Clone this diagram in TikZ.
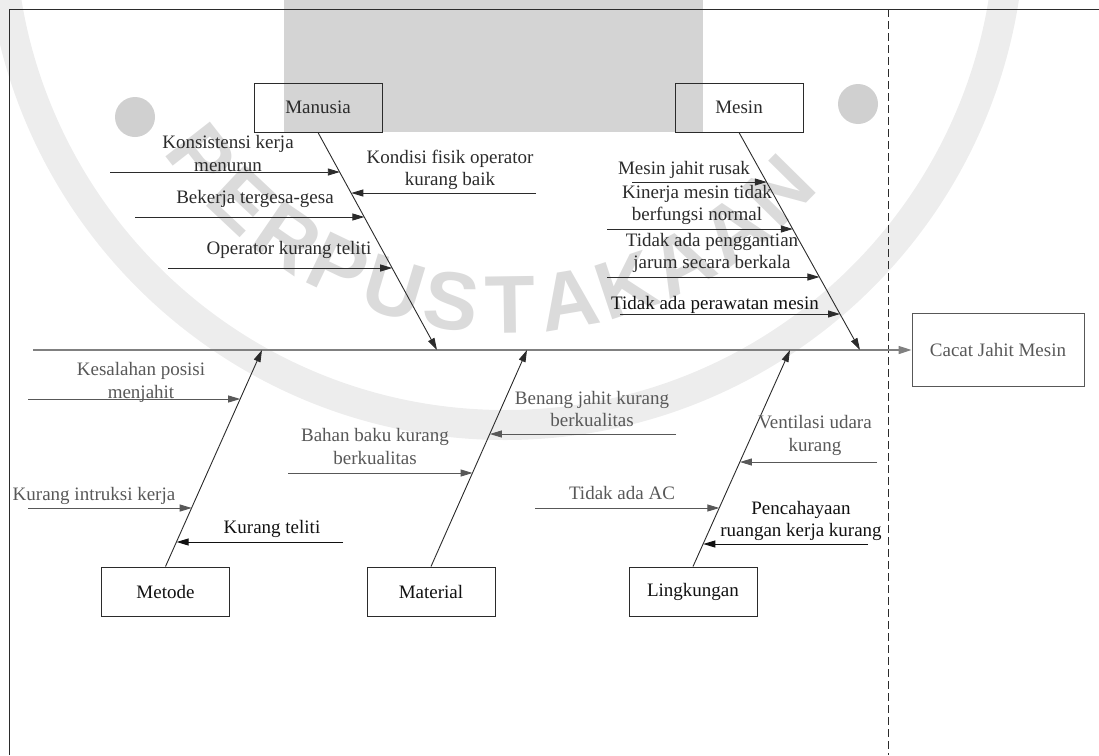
\documentclass[tikz,border=0pt]{standalone}
\usepackage{fontspec}
\setmainfont{Liberation Serif}
\newfontfamily\wmfont{Liberation Sans}
\usetikzlibrary{arrows.meta,calc}

\definecolor{labblack}{HTML}{111111}
\definecolor{labdark}{HTML}{2B2B2B}
\definecolor{labgray}{HTML}{585858}
\definecolor{spinegray}{HTML}{808080}
\definecolor{wmblock}{HTML}{D4D4D4}
\definecolor{wmdot}{HTML}{D0D0D0}
\definecolor{wmring}{HTML}{EDEDED}
\definecolor{wmletter}{HTML}{DBDBDB}

% one strut per line keeps single and double lines centred alike
\newcommand\oneline[1]{\strut#1}
\newcommand\twoline[2]{\strut#1\\\strut#2}

\begin{document}
\begin{tikzpicture}[x=1pt,y=-1pt,
  every node/.style={font=\fontsize{19}{22.5}\selectfont, inner sep=0pt, align=center},
  causebox/.style={draw=labdark, line width=1pt, minimum width=128pt, minimum height=49pt},
  bone/.style={draw=labdark, line width=0.9pt, -{Triangle[length=12pt,width=7pt]}},
  rib/.style={line width=0.9pt, -{Triangle[length=12pt,width=7pt]}},
  frameline/.style={draw=labdark, line width=1pt},
]
\useasboundingbox (0,0) rectangle (1099,755);

% ---- background stamp ----
\fill[wmblock] (284,0) rectangle (703,132);
\fill[wmdot] (135,117) circle[radius=20pt];
\fill[wmdot] (858,104) circle[radius=20pt];
\draw[wmring, line width=30pt] (505,-80) circle[radius=505pt];
\foreach \ch/\ang [count=\i] in {P/142,E/133.2,R/124.4,P/115.6,U/106.8,S/98,T/89.2,A/80.4,K/71.6,A/62.6,A/53.6,N/44.6}
  \node[text=wmletter, font=\wmfont\bfseries\fontsize{82}{82}\selectfont, rotate={90-\ang}]
    (wm\i) at ($(505,-80)+(\ang:385)$) {\ch};

% ---- frame ----
\coordinate (fTL) at (9.5,9);
\coordinate (fBL) at (9.5,755);
\coordinate (fTR) at (1099,9);
\coordinate (dTop) at (888,9);
\coordinate (dBot) at (888,755);
\draw[frameline] (fBL) -- (fTL) -- (fTR);
\draw[frameline, dash pattern=on 8pt off 4pt] (dTop) -- (dBot);

% ---- category boxes and effect ----
\node[causebox, text=labdark] (manusia) at (318,107.5) {Manusia};
\node[causebox, text=labdark] (mesin) at (739,107.5) {Mesin};
\node[causebox, text=labblack] (metode) at (165.5,591.5) {Metode};
\node[causebox, text=labblack] (material) at (431,591.5) {Material};
\node[causebox, text=labblack] (lingkungan) at (693,591.5) {Lingkungan};
\node[causebox, draw=labgray, text=labgray, minimum width=172pt, minimum height=73pt] (effect) at (998,350) {Cacat Jahit Mesin};

% ---- spine ----
\coordinate (tail) at (33,350);
\draw[spinegray, line width=1.6pt, -{Triangle[length=13pt,width=8pt]}] (tail) -- (effect.west);

% ---- bones ----
\coordinate (hManusia) at (437,350);
\coordinate (hMesin) at (860,350);
\coordinate (hMetode) at (262,350);
\coordinate (hMaterial) at (527,350);
\coordinate (hLingkungan) at (790,350);
\draw[bone] (manusia.south) -- (hManusia);
\draw[bone] (mesin.south) -- (hMesin);
\draw[bone] (metode.north) -- (hMetode);
\draw[bone] (material.north) -- (hMaterial);
\draw[bone] (lingkungan.north) -- (hLingkungan);

% ---- points where the causes meet the bones ----
\coordinate (tKons) at ($(manusia.south)!{40/218}!(hManusia)$);
\coordinate (tKond) at ($(manusia.south)!{61/218}!(hManusia)$);
\coordinate (tBek) at ($(manusia.south)!{85/218}!(hManusia)$);
\coordinate (tOp) at ($(manusia.south)!{136/218}!(hManusia)$);
\coordinate (tRusak) at ($(mesin.south)!{50/218}!(hMesin)$);
\coordinate (tKin) at ($(mesin.south)!{97/218}!(hMesin)$);
\coordinate (tGanti) at ($(mesin.south)!{145/218}!(hMesin)$);
\coordinate (tRawat) at ($(mesin.south)!{182/218}!(hMesin)$);
\coordinate (tSalah) at ($(metode.north)!{168/217}!(hMetode)$);
\coordinate (tIntr) at ($(metode.north)!{59/217}!(hMetode)$);
\coordinate (tTeliti) at ($(metode.north)!{25/217}!(hMetode)$);
\coordinate (tBenang) at ($(material.north)!{133/217}!(hMaterial)$);
\coordinate (tBahan) at ($(material.north)!{94/217}!(hMaterial)$);
\coordinate (tVent) at ($(lingkungan.north)!{105/217}!(hLingkungan)$);
\coordinate (tAC) at ($(lingkungan.north)!{59/217}!(hLingkungan)$);
\coordinate (tCahaya) at ($(lingkungan.north)!{23/217}!(hLingkungan)$);

% ---- free ends of the cause arrows ----
\coordinate (sKons) at (110,172);
\coordinate (sKond) at (536,193);
\coordinate (sBek) at (135,217);
\coordinate (sOp) at (168,268);
\coordinate (sRusak) at (632,182);
\coordinate (sKin) at (607,229);
\coordinate (sGanti) at (607,277);
\coordinate (sRawat) at (620,314);
\coordinate (sSalah) at (28,399);
\coordinate (sIntr) at (28,508);
\coordinate (sTeliti) at (343,542);
\coordinate (sBahan) at (288,473);
\coordinate (sBenang) at (676,434);
\coordinate (sAC) at (535,508);
\coordinate (sVent) at (877,462);
\coordinate (sCahaya) at (868,544);

% ---- cause arrows ----
\draw[rib, labdark] (sKons) -- (tKons |- sKons);
\draw[rib, labdark] (sKond) -- (tKond |- sKond);
\draw[rib, labdark] (sBek) -- (tBek |- sBek);
\draw[rib, labdark] (sOp) -- (tOp |- sOp);
\draw[rib, labdark] (sRusak) -- (tRusak |- sRusak);
\draw[rib, labdark] (sKin) -- (tKin |- sKin);
\draw[rib, labdark] (sGanti) -- (tGanti |- sGanti);
\draw[rib, labdark] (sRawat) -- (tRawat |- sRawat);
\draw[rib, labgray] (sSalah) -- (tSalah |- sSalah);
\draw[rib, labgray] (sIntr) -- (tIntr |- sIntr);
\draw[rib, labblack] (sTeliti) -- (tTeliti |- sTeliti);
\draw[rib, labgray] (sBahan) -- (tBahan |- sBahan);
\draw[rib, labgray] (sBenang) -- (tBenang |- sBenang);
\draw[rib, labgray] (sAC) -- (tAC |- sAC);
\draw[rib, labgray] (sVent) -- (tVent |- sVent);
\draw[rib, labblack] (sCahaya) -- (tCahaya |- sCahaya);

% ---- cause labels ----
\node[text=labdark] (lKons) at (228,155.5) {\twoline{Konsistensi kerja}{menurun}};
\node[text=labdark] (lKond) at (450,170) {\twoline{Kondisi fisik operator}{kurang baik}};
\node[text=labdark] (lBek) at (255,199) {\oneline{Bekerja tergesa-gesa}};
\node[text=labdark] (lOp) at (289,250) {\oneline{Operator kurang teliti}};
\node[text=labdark] (lRusak) at (684,170) {\oneline{Mesin jahit rusak}};
\node[text=labdark] (lKin) at (697,205) {\twoline{Kinerja mesin tidak}{berfungsi normal}};
\node[text=labdark] (lGanti) at (712,253) {\twoline{Tidak ada penggantian}{jarum secara berkala}};
\node[text=labblack] (lRawat) at (715,305) {\oneline{Tidak ada perawatan mesin}};
\node[text=labgray] (lSalah) at (141,382.5) {\twoline{Kesalahan posisi}{menjahit}};
\node[text=labgray] (lIntr) at (94,496) {\oneline{Kurang intruksi kerja}};
\node[text=labblack] (lTeliti) at (272,529) {\oneline{Kurang teliti}};
\node[text=labgray] (lBahan) at (375,448.5) {\twoline{Bahan baku kurang}{berkualitas}};
\node[text=labgray] (lBenang) at (592,411) {\twoline{Benang jahit kurang}{berkualitas}};
\node[text=labgray] (lAC) at (622,495) {\oneline{Tidak ada AC}};
\node[text=labgray] (lVent) at (815,435.5) {\twoline{Ventilasi udara}{kurang}};
\node[text=labblack] (lCahaya) at (801,521) {\twoline{Pencahayaan}{ruangan kerja kurang}};
\end{tikzpicture}
\end{document}
